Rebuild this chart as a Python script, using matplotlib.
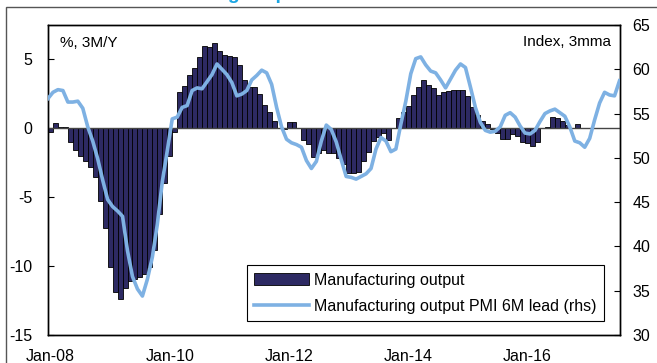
import matplotlib
matplotlib.use("Agg")
import matplotlib.pyplot as plt
from matplotlib.patches import Rectangle
import numpy as np

plt.rcParams['font.family'] = ['Liberation Sans', 'DejaVu Sans']

# Manufacturing output, %, 3M/Y, monthly from Jan-2008
output_3my = [
    -0.25, 0.36, 0.12, 0.07, -1.0, -1.55, -2.0, -2.4, -2.8, -3.55, -5.25, -7.25,
    -10.1, -11.85, -12.4, -11.6, -11.1, -10.9, -10.8, -10.6, -10.05, -8.8, -6.2, -4.0,
    -2.0, -0.3, 2.66, 3.1, 3.86, 4.35, 5.2, 6.0, 5.9, 6.16, 5.6, 5.3,
    5.25, 5.2, 4.6, 3.5, 3.0, 3.0, 2.5, 1.7, 1.2, 0.5, 0.05, -0.05,
    0.45, 0.45, 0.0, -0.85, -1.15, -2.05, -1.8, -1.6, -1.8, -1.8, -2.15, -2.6,
    -3.26, -3.26, -3.15, -2.35, -1.7, -0.95, -0.6, -0.36, -0.88, 0.03, 0.72, 1.18,
    1.6, 2.4, 3.0, 3.5, 3.14, 2.9, 2.4, 2.66, 2.7, 2.8, 2.78, 2.75,
    2.38, 1.57, 1.0, 0.55, 0.28, -0.05, -0.33, -0.8, -0.8, -0.4, -0.55, -0.97,
    -1.04, -1.3, -0.97, 0.0, 0.1, 0.85, 0.72, 0.55, 0.24, 0.0, 0.29,
]

# Manufacturing output PMI, 6M lead, index 3mma (rhs), monthly from Jan-2008
pmi_lead = [
    56.7, 57.4, 57.7, 57.6, 56.3, 56.3, 56.4, 55.6, 53.5, 51.9, 49.9, 47.5,
    45.3, 44.5, 44.0, 43.4, 39.5, 36.6, 35.2, 34.4, 36.3, 38.8, 42.5, 47.3,
    50.8, 54.4, 54.6, 55.7, 55.9, 57.6, 57.9, 57.8, 58.6, 59.4, 60.6, 60.0,
    59.4, 58.5, 57.0, 57.2, 57.6, 58.8, 59.3, 59.9, 59.6, 58.3, 55.7, 53.5,
    52.1, 51.7, 51.5, 51.2, 49.7, 48.8, 49.6, 51.9, 53.7, 53.2, 51.8, 49.8,
    47.9, 47.8, 47.6, 47.9, 48.2, 48.8, 51.0, 52.3, 51.9, 50.7, 51.0, 53.8,
    56.4, 59.5, 61.2, 61.4, 60.5, 59.8, 59.6, 58.8, 57.9, 58.9, 59.9, 60.6,
    60.2, 58.0, 55.7, 54.0, 53.1, 52.9, 53.0, 53.5, 54.8, 55.1, 54.6, 53.6,
    52.8, 52.7, 53.1, 54.1, 55.0, 55.3, 55.5, 55.1, 54.7, 53.5, 51.9, 51.7,
    51.2, 52.2, 54.3, 56.2, 57.4, 57.1, 57.0, 58.7,
]

tick_labels = ['Jan-08', 'Jan-10', 'Jan-12', 'Jan-14', 'Jan-16']
tick_months = [0, 24, 48, 72, 96]

bar_x = np.arange(len(output_3my))
line_x = np.arange(len(pmi_lead))

fig = plt.figure(figsize=(6.57, 3.63), dpi=100)
# outer frame
fig.patches.append(Rectangle((6/657, -0.1), 1.2, (363-7)/363 + 0.1, transform=fig.transFigure,
                             fill=False, edgecolor='#555555', linewidth=1.0))
# title, mostly cut off at the top edge as in the source image
fig.text(306/657, 1 + 1.0/363, 'Manufacturing output', ha='right', va='baseline',
         fontsize=14, fontweight='bold', color='#1BA6E3')

ax = fig.add_axes([48/657, (363-335)/363, (620-48)/657, (335-25)/363])
ax.bar(bar_x, output_3my, width=1.0, align='edge', color='#2D2A63',
       edgecolor='black', linewidth=0.6, label='Manufacturing output', zorder=2)
ax.axhline(0, color='#444444', linewidth=1.0, zorder=3)
ax.set_ylim(-15, 7.5)
ax.set_yticks([-15, -10, -5, 0, 5])
ax.set_yticklabels(['-15', '-10', '-5', '0', '5'])
ax.set_xlim(0, 115.1)
ax.set_xticks([m + 0.5 for m in tick_months])
ax.set_xticklabels(tick_labels)
ax.tick_params(axis='x', length=0, pad=10, labelsize=11.5)
ax.tick_params(axis='y', direction='in', length=4, pad=11, labelsize=11.5)
for s in ax.spines.values():
    s.set_color('black')
    s.set_linewidth(1.0)

ax2 = ax.twinx()
ax2.plot(line_x, pmi_lead, color='#7EB1E3', linewidth=2.6,
         label='Manufacturing output PMI 6M lead (rhs)', zorder=4, solid_joinstyle='round')
ax2.set_ylim(30, 65)
ax2.set_yticks([30, 35, 40, 45, 50, 55, 60, 65])
ax2.tick_params(axis='y', direction='in', length=4, pad=9, labelsize=11.5)
ax2.set_xlim(0, 115.1)
for s in ax2.spines.values():
    s.set_color('black')
    s.set_linewidth(1.0)

ax.text(12/572, 1 - 18/310, '%, 3M/Y', transform=ax.transAxes, fontsize=11,
        ha='left', va='center')
ax.text(1 - 9/572, 1 - 17/310, 'Index, 3mma', transform=ax.transAxes, fontsize=11,
        ha='right', va='center')

h1, l1 = ax.get_legend_handles_labels()
h2, l2 = ax2.get_legend_handles_labels()
leg = ax2.legend(h1 + h2, l1 + l2, loc='lower right',
                 bbox_to_anchor=((604-48)/572, (335-321)/310),
                 fontsize=11.5, frameon=True, fancybox=False, framealpha=1,
                 edgecolor='black', handlelength=3.4, labelspacing=0.7,
                 borderpad=0.45, handletextpad=0.35, borderaxespad=0)
leg.get_frame().set_linewidth(0.8)

fig.savefig('out.png', dpi=100)
